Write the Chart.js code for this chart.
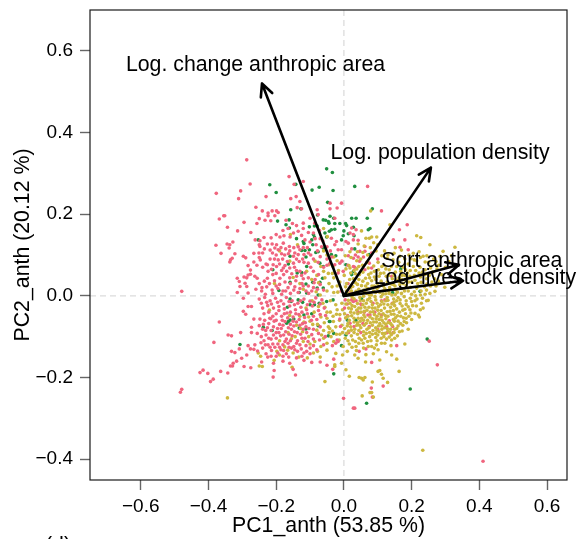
<!DOCTYPE html>
<html>
<head>
<meta charset="utf-8">
<style>
  html, body { margin: 0; padding: 0; background: #fff; overflow: hidden; }
  canvas { display: block; }
</style>
<script src="https://cdn.jsdelivr.net/npm/chart.js@4"></script>
</head>
<body>
<canvas id="biplot" width="578" height="539"></canvas>
<script>
const xTicks = [-0.6, -0.4, -0.2, 0, 0.2, 0.4, 0.6]
const yTicks = [-0.4, -0.2, 0, 0.2, 0.4, 0.6]

const arrowNames = ['Log. change anthropic area', 'Log. population density', 'Sqrt anthropic area', 'Log. livestock density']
const arrowX = [-0.242, 0.257, 0.34, 0.352]
const arrowY = [0.52, 0.314, 0.076, 0.037]
const labelX = [-0.261, 0.284, 0.378, 0.387]
const labelY = [0.566, 0.35, 0.086, 0.044]

const yellowPoints = [
  [.298,.021],[.269,.011],[.249,-.011],[.229,-.018],[.234,-.03],[.226,-.034],[.22,-.047],[.223,-.052],[.195,-.034],[.19,-.082],[.18,-.118],[.163,-.185],[.156,-.155],[.141,-.145],[.126,-.137],[.139,-.122],[.141,-.108],[.121,-.116],[.111,-.116],[.101,-.132],[.106,-.157],[.101,-.185],[.106,-.183],[.111,-.192],[.116,-.202],[.129,-.212],[.084,-.211],[.082,-.237],[.077,-.237],[.087,-.248],[.054,-.245],[.045,-.2],[.052,-.202],[.062,-.2],[.057,-.206],[.064,-.162],[.016,-.197],[.006,-.181],[-.007,-.165],[-.027,-.169],[-.027,-.173],[-.024,-.141],[-.004,-.145],[.037,-.134],[.032,-.145],[.042,-.153],[.065,-.144],[.087,-.142],[.082,-.124],[.096,-.12],[.052,-.108],[.057,-.116],
  [.233,-.378],[.079,.208],[.136,.174],[.215,.147],[.227,.143],[.254,.125],[.052,.159],[.082,.144],[.097,.144],[.065,.141],[.075,.141],[.328,.119],[.293,.109],[.318,.098],[.284,.097],[.234,.097],[.31,.084],[.3,.07],[.265,.09],[.25,.082],[.215,.086],[.198,.091],[.275,.066],[.262,.058],[.24,.064],[.225,.07],[.205,.072],[.19,.078],[.175,.07],[.162,.082],[.145,.088],[.128,.092],[.112,.098],[.095,.11],[.078,.118],[.06,.122],[.042,.127],[.101,.082],[.118,.075],[.134,.064],[.152,.058],[.172,.05],[.188,.056],[.208,.05],[.226,.046],[.244,.042],[.26,.034],[.279,.036],[.238,.022],[.218,.03],[.2,.034],[.182,.038],[.162,.035],[.143,.042],[.125,.048],[.108,.055],[.09,.06],[.072,.068],[.055,.075],[.038,.086],[.021,.094],[.004,.098],[.015,.074],[.03,.062],[.046,.052],[.064,.043],[.082,.037],[.099,.03],[.117,.024],[.135,.02],[.153,.015],[.171,.018],[.19,.012],[.208,.01],[.196,-.006],[.178,-.002],[.16,-.004],[.142,.002],[.124,.005],[.106,.008],[.088,.012],[.07,.018],[.052,.025],[.034,.032],[.017,.04],[.001,.05],[.005,.022],[.022,.012],[.04,.005],[.058,-.001],[.076,-.006],[.094,-.01],[.112,-.014],[.13,-.011],[.148,-.016],[.166,-.019],[.184,-.021],[.203,-.024],[.21,-.043],[.192,-.05],[.174,-.035],[.156,-.032],[.138,-.028],[.12,-.03],[.102,-.026],[.084,-.022],[.066,-.018],[.048,-.012],[.03,-.007],[.013,-.011],[.014,-.03],[.032,-.026],[.05,-.03],[.068,-.035],[.086,-.039],[.104,-.044],[.122,-.048],[.14,-.045],[.158,-.049],[.176,-.054],[.185,-.066],[.167,-.068],[.149,-.062],[.131,-.065],[.113,-.06],[.095,-.056],[.077,-.052],[.059,-.047],[.041,-.044],[.023,-.049],[.005,-.054],[.012,-.068],[.03,-.064],[.048,-.062],[.066,-.067],[.084,-.072],[.102,-.074],[.12,-.078],[.138,-.082],[.156,-.08],[.172,-.086],[.158,-.098],[.14,-.095],[.122,-.092],[.104,-.088],[.086,-.085],[.068,-.082],[.05,-.078],[.032,-.082],[.014,-.086],[.004,-.104],[.022,-.098],[.04,-.094],[.058,-.097],[.076,-.1],[.094,-.102],[.11,-.104],[.126,-.106],[.034,-.112],[.016,-.118],[.07,-.112],
  [.09,.046],[.11,.036],[.128,.034],[.146,.028],[.165,.027],[.184,.025],[.073,.052],[.056,.058],[.038,.066],[.02,.056],[.006,.066],[.098,.018],[.116,.012],[.134,.006],[.152,.003],[.17,.006],[.062,.008],[.044,.016],[.026,.023],[.008,.03],[.075,.002],[.092,-.002],[.11,-.002],[.128,-.004],[.147,-.008],[.166,-.01],[.184,-.012],[.056,-.022],[.074,-.028],[.092,-.03],[.11,-.036],[.128,-.039],[.146,-.036],[.164,-.04],[.182,-.044],[.038,-.035],[.02,-.04],[.002,-.044],[.052,-.055],[.07,-.06],[.088,-.064],[.106,-.068],[.124,-.07],[.142,-.072],[.16,-.074],[.038,-.072],[.02,-.076],[.002,-.08],[.058,-.088],[.076,-.09],[.094,-.092],[.112,-.082],[.13,-.086],[.148,-.09],
  // filling of the solid core, read as a dense patch
  [.012,.006],[.024,-.002],[.036,.011],[.047,-.004],[.059,.014],[.068,.006],[.081,.002],[.083,.024],[.094,.008],[.103,.022],[.115,.004],[.121,.017],[.132,.012],[.14,.029],[.151,.024],[.158,.009],[.163,.044],[.175,.03],[.179,.012],[.191,.034],[.197,.021],[.21,.038],[.215,.019],[.228,.033],[.232,.058],[.245,.029],[.252,.05],[.268,.042],[.196,.062],[.182,.064],[.168,.06],[.156,.072],[.14,.072],[.124,.066],[.112,.072],[.102,.064],[.088,.073],[.08,.056],[.068,.082],[.05,.09],[.044,.072],[.034,.054],[.028,.042],[.018,.068],[.044,.04],[.056,.036],[.07,.03],[.076,.044],[.094,.04],[.104,.048],[.118,.056],[.132,.05],[.148,.05],[.156,.038],[.17,.04],[.09,.024],[.064,.024],[.04,.028],[.02,.02],[.008,.012],
  [.006,-.02],[.018,-.018],[.024,-.024],[.04,-.019],[.044,-.03],[.058,-.012],[.062,-.028],[.07,-.01],[.08,-.014],[.084,-.03],[.098,-.018],[.1,-.035],[.108,-.022],[.118,-.02],[.124,-.012],[.13,-.022],[.142,-.02],[.15,-.024],[.156,-.012],[.172,-.025],[.18,-.033],[.19,-.027],[.2,-.014],[.21,-.012],[.214,-.025],[.022,-.032],[.03,-.042],[.05,-.04],[.06,-.038],[.078,-.04],[.09,-.046],[.098,-.05],[.11,-.052],[.116,-.044],[.13,-.05],[.136,-.038],[.148,-.045],[.152,-.054],[.168,-.05],[.184,-.055],[.2,-.058],[.198,-.042],[.012,-.05],[.016,-.06],[.03,-.055],[.042,-.055],[.058,-.06],[.062,-.052],[.078,-.066],[.084,-.056],[.096,-.064],[.104,-.058],[.118,-.066],[.124,-.056],[.138,-.068],[.146,-.058],[.16,-.062],[.174,-.072],[.178,-.063],[.01,-.074],[.022,-.084],[.04,-.066],[.046,-.072],[.06,-.072],[.074,-.078],[.094,-.078],[.098,-.084],[.112,-.074],[.114,-.092],[.128,-.08],[.136,-.09],[.15,-.082],[.164,-.088],[.008,-.092],[.03,-.09],[.044,-.085],[.066,-.092],[.084,-.094],[.1,-.096],[.118,-.1],[.134,-.101],[.15,-.104],[.012,-.11],[.026,-.108],[.045,-.104],[.062,-.104],[.08,-.11],[.098,-.11],[.044,-.116],[.024,-.126],[.01,-.136],[.036,-.124],[.058,-.128],[.072,-.124],[.09,-.128],
  // upper right shoulder of the yellow cloud
  [.13,.1],[.148,.104],[.165,.097],[.18,.09],[.205,.104],[.222,.108],[.24,.083],[.256,.068],[.272,.084],[.288,.052],[.28,.075],[.17,.112],[.152,.118],[.12,.11],[.1,.125],[.088,.13],[.07,.1],[.056,.106],[.04,.108],[.018,.108],[.208,.088],[.226,.094],[.192,.1],[.245,.098],[.212,.062],[.222,.056],[.195,.048],[.18,.05],[.24,.052],[.256,.024],[.272,.024],[.244,.014],[.228,.012],[.212,.0],[.226,.002],[.24,.004],[.254,.006],[.216,-.008],[.232,-.006],[.244,-.012],[.2,.004]
]

// yellow of the overlap with the pink cloud, it lies on top of the pink there
const yellowOverPoints = [
  [-.344,-.25],[-.056,-.21],[-.153,-.175],[-.016,.062],[-.032,.072],[-.046,.055],[-.03,.044],[-.012,.034],[-.05,.012],[-.035,.022],[-.018,.009],[-.006,-.018],[-.024,-.022],[-.04,-.012],[-.056,-.028],[-.04,-.04],[-.022,-.045],[-.004,-.034],[-.013,-.06],[-.031,-.063],[-.05,-.055],[-.042,-.08],[-.024,-.076],[-.006,-.072],[-.004,-.09],[-.022,-.094],[-.038,-.1],[-.014,-.108],[-.002,-.124],
  [-.06,.06],[-.075,.032],[-.082,.01],[-.094,-.012],[-.075,-.026],[-.088,-.04],[-.068,-.052],[-.078,-.07],[-.06,-.085],[-.1,-.062],[-.112,-.03],[-.12,.016],[-.13,-.05],[-.14,-.072],[-.122,-.088],[-.104,-.1],[-.086,-.112],[-.068,-.124],[-.05,-.116],[-.165,-.09],[-.155,-.105],[-.175,-.125],[-.19,-.145],[-.253,-.14],[-.246,-.148],[-.25,-.172],[-.241,-.173],[-.206,-.158],[-.198,-.136],[-.19,-.11],[-.166,-.133],[-.15,-.14],[-.133,-.15],[-.108,-.152],[-.09,-.14],[-.07,-.15],[-.05,-.133],[-.16,-.048],[-.22,-.035],[-.205,.03],[-.06,.11],[-.085,.085],[-.11,.06],[-.15,.045],[-.13,.03],[-.095,.04],[-.158,.15],[-.137,.125],[-.16,.085],[-.19,.11],[-.049,.145],[-.06,.165],
  [-.07,.002],[-.062,-.018],[-.05,-.04],[-.058,-.066],[-.046,-.076],[-.034,-.086],[-.066,-.096],[-.08,-.084],[-.092,-.07],[-.104,-.052],[-.118,-.064],[-.128,-.08],[-.144,-.1],[-.12,-.112],[-.1,-.118],[-.078,-.136],[-.06,-.104],[-.044,-.09],[-.03,-.112],[-.012,-.094],[-.02,-.034],[-.032,-.05],[-.012,-.046],[-.03,.008],[-.044,.03],[-.02,.024],[-.056,.044],[-.068,.072],[-.08,.05],[-.034,.055],[-.044,.076],[-.02,.086],[-.03,.095],[-.05,.1]
]

const pinkPoints = [
  [-.287,.333],[-.277,.274],[-.377,.251],[-.305,.257],[-.311,.238],[-.23,.243],[-.162,.292],[-.147,.273],[-.12,.28],[-.157,.238],[-.141,.243],[-.13,.231],[-.138,.216],[-.125,.213],[-.079,.211],[-.26,.217],[-.241,.208],[-.212,.208],[-.199,.208],[-.194,.204],[-.224,.203],[-.224,.196],[-.204,.196],[-.355,.196],[-.352,.196],[-.368,.188],[-.25,.189],[-.233,.185],[-.216,.184],[-.295,.18],[-.257,.177],[-.344,.168],[-.314,.159],[-.275,.155],[-.378,.124],[-.363,.104],[-.345,.127],[-.337,.125],[-.339,.117],[-.328,.132],[-.322,.103],[-.33,.092],[-.335,.088],[-.337,.083],[-.297,.097],[-.29,.093],[-.266,.104],[-.251,.105],[-.25,.094],[-.247,.088],[-.266,.083],[-.257,.075],[-.283,.074],[-.276,.063],[-.283,.051],[-.276,.053],[-.287,.044],[-.295,.046],[-.315,.043],[-.256,.043],[-.224,.06],[-.23,.078],[-.214,.065],[-.179,.068],
  [-.262,.137],[-.248,.135],[-.236,.143],[-.25,.125],[-.248,.121],[-.226,.127],[-.212,.127],[-.199,.125],[-.189,.144],[-.177,.147],[-.159,.144],[-.149,.154],[-.171,.185],[-.135,.158],[-.152,.177],[-.14,.172],[-.12,.178],[-.1,.19],[-.076,.199],[-.086,.178],[-.09,.154],[-.115,.137],[-.13,.113],[-.145,.105],[-.161,.121],[-.179,.129],[-.194,.113],[-.204,.117],[-.211,.105],[-.184,.103],[-.164,.103],[-.149,.097],[-.135,.101],[-.118,.101],[-.105,.08],[-.132,.084],[-.149,.08],[-.167,.084],[-.181,.09],[-.194,.088],[-.209,.076],[-.226,.076],[-.199,.072],[-.184,.062],[-.169,.06],[-.154,.054],[-.14,.048],[-.189,.043],[-.21,.052],[-.226,.043],[-.263,.048],[-.072,.16],[-.066,.12],[-.082,.125],[-.05,.09],[-.09,.06],[-.098,.1],[-.07,.096],[-.108,.118],[-.118,.082],[-.076,.082],[-.06,.07],[-.105,.044],[-.12,.042],
  [-.479,.011],[-.368,-.064],[-.342,-.096],[-.332,-.098],[-.305,-.09],[-.384,-.114],[-.332,-.136],[-.322,-.139],[-.302,-.153],[-.287,-.145],[-.317,-.16],[-.327,-.165],[-.335,-.172],[-.329,-.172],[-.295,-.173],[-.275,-.176],[-.425,-.188],[-.416,-.182],[-.402,-.19],[-.364,-.185],[-.343,-.189],[-.386,-.204],[-.394,-.21],[-.479,-.229],[-.483,-.236],[-.206,-.183],[-.209,-.199],
  [-.309,.035],[-.292,.031],[-.307,.023],[-.287,.023],[-.283,.007],[-.315,.008],[-.297,-.006],[-.283,-.026],[-.273,-.026],[-.297,-.038],[-.29,-.045],[-.266,-.057],[-.248,-.057],[-.219,-.055],[-.273,-.077],[-.273,-.09],[-.256,-.092],[-.231,-.085],[-.263,-.12],[-.283,-.122],[-.276,-.13],[-.266,-.131],[-.309,-.13],
  [-.25,.03],[-.235,.036],[-.22,.03],[-.205,.037],[-.19,.028],[-.174,.034],[-.158,.03],[-.142,.037],[-.124,.03],[-.105,.024],[-.088,.032],[-.07,.028],[-.26,.016],[-.243,.012],[-.228,.022],[-.212,.014],[-.195,.018],[-.18,.012],[-.165,.02],[-.148,.014],[-.13,.018],[-.112,.012],[-.095,.012],[-.078,.016],[-.06,.014],[-.25,-.008],[-.234,-.004],[-.218,-.012],[-.202,-.006],[-.186,-.012],[-.17,-.004],[-.153,-.012],[-.136,-.018],[-.118,-.008],[-.1,-.013],[-.083,-.005],[-.065,-.01],[-.24,-.03],[-.225,-.024],[-.208,-.03],[-.192,-.026],[-.176,-.032],[-.16,-.025],[-.143,-.034],[-.127,-.028],[-.11,-.034],[-.093,-.025],[-.075,-.036],[-.058,-.03],[-.2,-.044],[-.184,-.05],[-.168,-.042],[-.15,-.052],[-.133,-.046],[-.116,-.053],[-.25,-.073],[-.238,-.07],[-.222,-.068],[-.206,-.062],[-.19,-.07],[-.174,-.063],[-.158,-.07],[-.14,-.064],[-.122,-.068],[-.244,-.1],[-.23,-.096],[-.215,-.085],[-.2,-.09],[-.185,-.08],[-.172,-.088],[-.155,-.082],[-.138,-.09],[-.12,-.082],[-.103,-.08],[-.215,-.106],[-.2,-.104],[-.187,-.098],[-.17,-.106],[-.153,-.098],[-.137,-.11],[-.115,-.104],[-.095,-.095],[-.075,-.092],[-.224,-.12],[-.21,-.118],[-.195,-.118],[-.18,-.12],[-.165,-.116],[-.148,-.124],[-.13,-.12],[-.112,-.122],[-.255,-.135],[-.24,-.128],[-.23,-.142],[-.214,-.134],[-.2,-.148],[-.186,-.132],[-.17,-.142],[-.155,-.128],[-.137,-.136],[-.118,-.14],[-.1,-.128],[-.08,-.132],[-.06,-.12],[-.243,-.162],[-.225,-.15],[-.208,-.165],[-.18,-.16],[-.16,-.165],[-.14,-.152],[-.118,-.158],[-.095,-.163],[-.07,-.162],[-.05,-.17],[-.15,-.18],[-.143,-.194],[-.03,-.155],
  [.252,-.111],[.276,-.169],[.156,-.122],[.082,-.163],[.045,-.136],[.065,-.13],[-.033,-.18],[.081,-.226],[.116,-.221],[.084,-.248],[-.001,-.251],[.032,-.275],[.028,-.275],[.411,-.405],
  [.128,-.09],[.144,-.075],[.146,-.09],[.126,-.075],[.134,-.061],[.111,-.047],[.091,-.04],[.071,-.047],[.077,-.047],[.111,-.012],[.143,-.018],[.086,-.018],[.121,-.01],[.052,-.022],[.023,-.01],[.028,-.014],[.042,-.04],[.018,-.067],[-.02,-.108],[-.024,-.116],[-.017,-.112],[-.034,-.122],[-.012,-.057],[.002,-.03],[-.01,-.075],[.011,-.048],
  [.07,.268],[-.007,.227],[.111,.208],[.187,.174],[.164,.162],[.146,.137],[.18,.137],[.166,.119],[.19,.113],[-.041,.227],[-.02,.215],[-.041,.213],[-.027,.19],[.023,.166],[.036,.162],[.018,.154],[.028,.15],[.028,.137],[.013,.129],[.006,.133],[.042,.136],[.062,.121],[.023,.115],[.047,.109],[.062,.109],[.082,.105],[.028,.092],[.042,.095],[.013,.098],[-.007,.113],[-.022,.133],[-.037,.141],[-.027,.125],[-.017,.113],[.028,.072],[.032,.07],[.082,.068],[.141,.048],[.062,.064],[-.027,.076],[-.012,.08],[-.002,.06],[-.017,.056],[-.041,.08],
  // filling of the dense middle of the pink cloud
  [-.242,.02],[-.232,.004],[-.21,.006],[-.2,.024],[-.184,.004],[-.172,.012],[-.158,.006],[-.145,.022],[-.135,.008],[-.12,.024],[-.104,.006],[-.09,.02],[-.244,-.018],[-.228,-.016],[-.214,-.02],[-.196,-.016],[-.178,-.02],[-.162,-.014],[-.146,-.022],[-.128,-.012],[-.108,-.022],[-.088,-.016],[-.07,-.02],[-.236,-.044],[-.222,-.04],[-.21,-.05],[-.192,-.036],[-.176,-.044],[-.158,-.04],[-.142,-.044],[-.124,-.04],[-.108,-.044],[-.09,-.05],[-.07,-.046],[-.054,-.048],[-.234,-.06],[-.216,-.056],[-.2,-.06],[-.182,-.06],[-.166,-.054],[-.15,-.062],[-.132,-.058],[-.114,-.066],[-.096,-.06],[-.08,-.058],[-.24,-.082],[-.226,-.078],[-.208,-.076],[-.196,-.08],[-.18,-.072],[-.164,-.078],[-.148,-.074],[-.13,-.072],[-.112,-.076],[-.09,-.082],[-.07,-.076],[-.236,-.11],[-.222,-.104],[-.208,-.096],[-.192,-.09],[-.178,-.096],[-.162,-.094],[-.146,-.088],[-.128,-.094],[-.11,-.09],[-.09,-.106],[-.072,-.108],[-.055,-.1],[-.218,-.126],[-.204,-.126],[-.19,-.126],[-.174,-.112],[-.158,-.11],[-.14,-.116],[-.124,-.104],[-.106,-.112],[-.245,-.115],[-.232,-.12],[-.195,-.14],[-.178,-.134],[-.162,-.126],[-.145,-.132],[-.126,-.13],[-.11,-.136],[-.09,-.122],[-.215,-.148],[-.18,-.148],[-.163,-.15],[-.124,-.148],[-.1,-.142],
  [-.24,.07],[-.218,.09],[-.205,.09],[-.19,.078],[-.174,.074],[-.16,.068],[-.146,.07],[-.13,.06],[-.115,.056],[-.098,.07],[-.085,.04],[-.075,.052],[-.2,.055],[-.178,.052],[-.16,.044],[-.14,.062],[-.125,.05],[-.175,.1],[-.16,.11],[-.148,.118],[-.135,.12],[-.12,.118],[-.105,.105],[-.09,.09],[-.078,.11],[-.14,.09],[-.122,.09],[-.172,.115],[-.186,.118],[-.2,.1],[-.218,.112],[-.235,.115],[-.24,.105],[-.1,.132],[-.085,.14],[-.07,.14],[-.125,.148],[-.105,.155],[-.12,.165],[-.165,.165],[-.18,.16],[-.2,.15],[-.215,.142],[-.062,.134],[-.05,.12],[-.04,.11],[-.036,.095],[-.05,.075],
  [.012,.03],[.02,.01],[.036,-.012],[.05,-.02],[.06,-.04],[.014,-.09],[.03,-.075],[.05,-.09],[.075,-.075],[.1,-.082],[.056,-.068],[-.006,.085],[.012,.075],[.034,.1],[.046,.085],[.058,.095],[.1,.09],[.075,.08],[.004,-.01],[-.008,.012],[.01,-.02]
]

const greenPoints = [
  [.246,-.106],[.196,-.228],[.067,-.263],[-.03,-.191],[-.007,-.122],[-.03,-.092],[.006,-.096],[.01,-.059],[.035,-.06],[-.041,-.063],[-.032,-.01],[.052,-.007],[.144,.008],[.225,.011],[-.307,-.119],[-.238,-.077],[-.212,-.085],[-.167,-.028],[-.159,.033],[-.192,.013],[-.159,-.008],[-.156,-.014],[-.135,-.01],[-.122,-.016],[-.118,-.047],[-.095,-.044],[-.1,-.022],[-.087,-.022],[-.073,-.018],[-.076,.002],[-.11,.007],[-.132,.008],[-.079,.019],[-.061,.019],[-.071,.033],[-.112,.029],[-.092,.033],[-.051,-.014],[-.164,-.063],[-.159,-.059],[-.169,-.067],[-.148,-.057],[-.132,-.079],[-.112,-.081],[-.046,-.098],[-.076,-.073],[-.043,-.063],
  [-.219,.272],[-.2,.253],[-.142,.273],[-.051,.311],[-.073,.266],[-.094,.259],[-.157,.211],[-.127,.213],[-.048,.229],[-.078,.198],[-.196,.183],[-.162,.186],[-.171,.174],[-.161,.166],[-.253,.137],[-.14,.14],[-.102,.169],[-.087,.171],[-.079,.171],[-.061,.186],[-.054,.185],[-.046,.182],[-.044,.178],[-.043,.158],[-.056,.154],[-.051,.144],[-.09,.15],[-.087,.144],[-.095,.137],[-.12,.133],[-.118,.128],[-.125,.111],[-.115,.111],[-.102,.113],[-.092,.125],[-.083,.106],[-.076,.108],[-.061,.117],[-.071,.08],[-.061,.072],[-.112,.095],[-.11,.072],[-.159,.097],[-.164,.078],[-.21,.064],[-.138,.056],[-.125,.057],[-.063,.043],
  [-.034,.302],[-.032,.258],[.032,.268],[.084,.213],[.023,.19],[.036,.19],[.069,.19],[.005,.177],[.008,.172],[-.012,.177],[-.03,.19],[-.027,.177],[-.041,.195],[0,.159],[.028,.168],[.077,.165],[.072,.162],[-.027,.163],[-.037,.162],[-.002,.147],[-.007,.137],[.013,.152],[.03,.147],[.032,.115],[-.024,.098],[-.037,.101],[.075,.101],[.006,.076],[.028,.06],[.023,.052],[.168,.066]
]

// dashed zero lines under the dots; box, arrows and names over them
const biplotDecor = {
  id: 'biplotDecor',
  beforeDatasetsDraw (chart) {
    const { ctx, scales: { x, y }, chartArea: a } = chart
    ctx.save()
    ctx.strokeStyle = '#dcdcdc'
    ctx.lineWidth = 1.3
    ctx.setLineDash([6, 4])
    ctx.beginPath()
    ctx.moveTo(x.getPixelForValue(0), a.top)
    ctx.lineTo(x.getPixelForValue(0), a.bottom)
    ctx.moveTo(a.left, y.getPixelForValue(0))
    ctx.lineTo(a.right, y.getPixelForValue(0))
    ctx.stroke()
    ctx.restore()
  },
  afterDatasetsDraw (chart) {
    const { ctx, scales: { x, y }, chartArea: a } = chart
    ctx.save()
    ctx.strokeStyle = '#1a1a1a'
    ctx.lineWidth = 1.2
    ctx.strokeRect(a.left, a.top, a.right - a.left, a.bottom - a.top)

    const x0 = x.getPixelForValue(0)
    const y0 = y.getPixelForValue(0)
    ctx.strokeStyle = '#000'
    ctx.fillStyle = '#000'
    ctx.lineWidth = 2.6
    ctx.lineCap = 'round'
    ctx.lineJoin = 'round'
    arrowNames.forEach((name, i) => {
      const tx = x.getPixelForValue(arrowX[i])
      const ty = y.getPixelForValue(arrowY[i])
      const ang = Math.atan2(ty - y0, tx - x0)
      ctx.beginPath()
      ctx.moveTo(x0, y0)
      ctx.lineTo(tx, ty)
      ctx.moveTo(tx - 14 * Math.cos(ang - 0.45), ty - 14 * Math.sin(ang - 0.45))
      ctx.lineTo(tx, ty)
      ctx.lineTo(tx - 14 * Math.cos(ang + 0.45), ty - 14 * Math.sin(ang + 0.45))
      ctx.stroke()
    })
    ctx.font = '21.3px "Liberation Sans"'
    ctx.textAlign = 'center'
    ctx.textBaseline = 'middle'
    arrowNames.forEach((name, i) => {
      ctx.fillText(name, x.getPixelForValue(labelX[i]), y.getPixelForValue(labelY[i]))
    })
    ctx.textAlign = 'left'
    ctx.textBaseline = 'alphabetic'
    ctx.fillText('(d)', 45, 552)
    ctx.restore()
  }
}

function tickOptions () {
  return {
    color: '#000',
    font: { family: '"Liberation Sans"', size: 19 },
    maxRotation: 0,
    autoSkip: false,
    callback: v => (v < 0 ? '\u2212' : '') + Math.abs(v).toFixed(1)
  }
}

function toXY (points) {
  return points.map(p => ({ x: p[0], y: p[1] }))
}

new Chart(document.getElementById('biplot'), {
  type: 'scatter',
  data: {
    datasets: [
      { data: toXY(yellowPoints), backgroundColor: '#CDB840' },
      { data: toXY(pinkPoints), backgroundColor: '#F0657E' },
      { data: toXY(yellowOverPoints), backgroundColor: '#CDB840' },
      { data: toXY(greenPoints), backgroundColor: '#1F8F3F' }
    ]
  },
  options: {
    responsive: false,
    animation: false,
    layout: { padding: { left: 0, top: 10, right: 11, bottom: 0 } },
    elements: { point: { radius: 1.8, borderWidth: 0 } },
    plugins: { legend: { display: false }, tooltip: { enabled: false } },
    scales: {
      x: {
        type: 'linear',
        min: -0.75,
        max: 0.659,
        afterBuildTicks: s => { s.ticks = xTicks.map(value => ({ value })) },
        afterFit: s => { s.height = 59; s.paddingLeft = 0; s.paddingRight = 0 },
        grid: { drawOnChartArea: false, tickLength: 10, tickColor: '#666', tickWidth: 1.4 },
        border: { display: false },
        ticks: { ...tickOptions(), padding: 5 },
        title: { display: true, text: 'PC1_anth (53.85 %)', color: '#000', font: { family: '"Liberation Sans"', size: 21.3 }, padding: { top: 0, bottom: 0 } }
      },
      y: {
        type: 'linear',
        min: -0.451,
        max: 0.7,
        afterBuildTicks: s => { s.ticks = yTicks.map(value => ({ value })) },
        afterFit: s => { s.width = 90; s.paddingTop = 0; s.paddingBottom = 0 },
        grid: { drawOnChartArea: false, tickLength: 10, tickColor: '#666', tickWidth: 1.4 },
        border: { display: false },
        ticks: { ...tickOptions(), padding: 7 },
        title: { display: true, text: 'PC2_anth (20.12 %)', color: '#000', font: { family: '"Liberation Sans"', size: 21.3 }, padding: { top: 10, bottom: 0 } }
      }
    }
  },
  plugins: [biplotDecor]
})
</script>
</body>
</html>
